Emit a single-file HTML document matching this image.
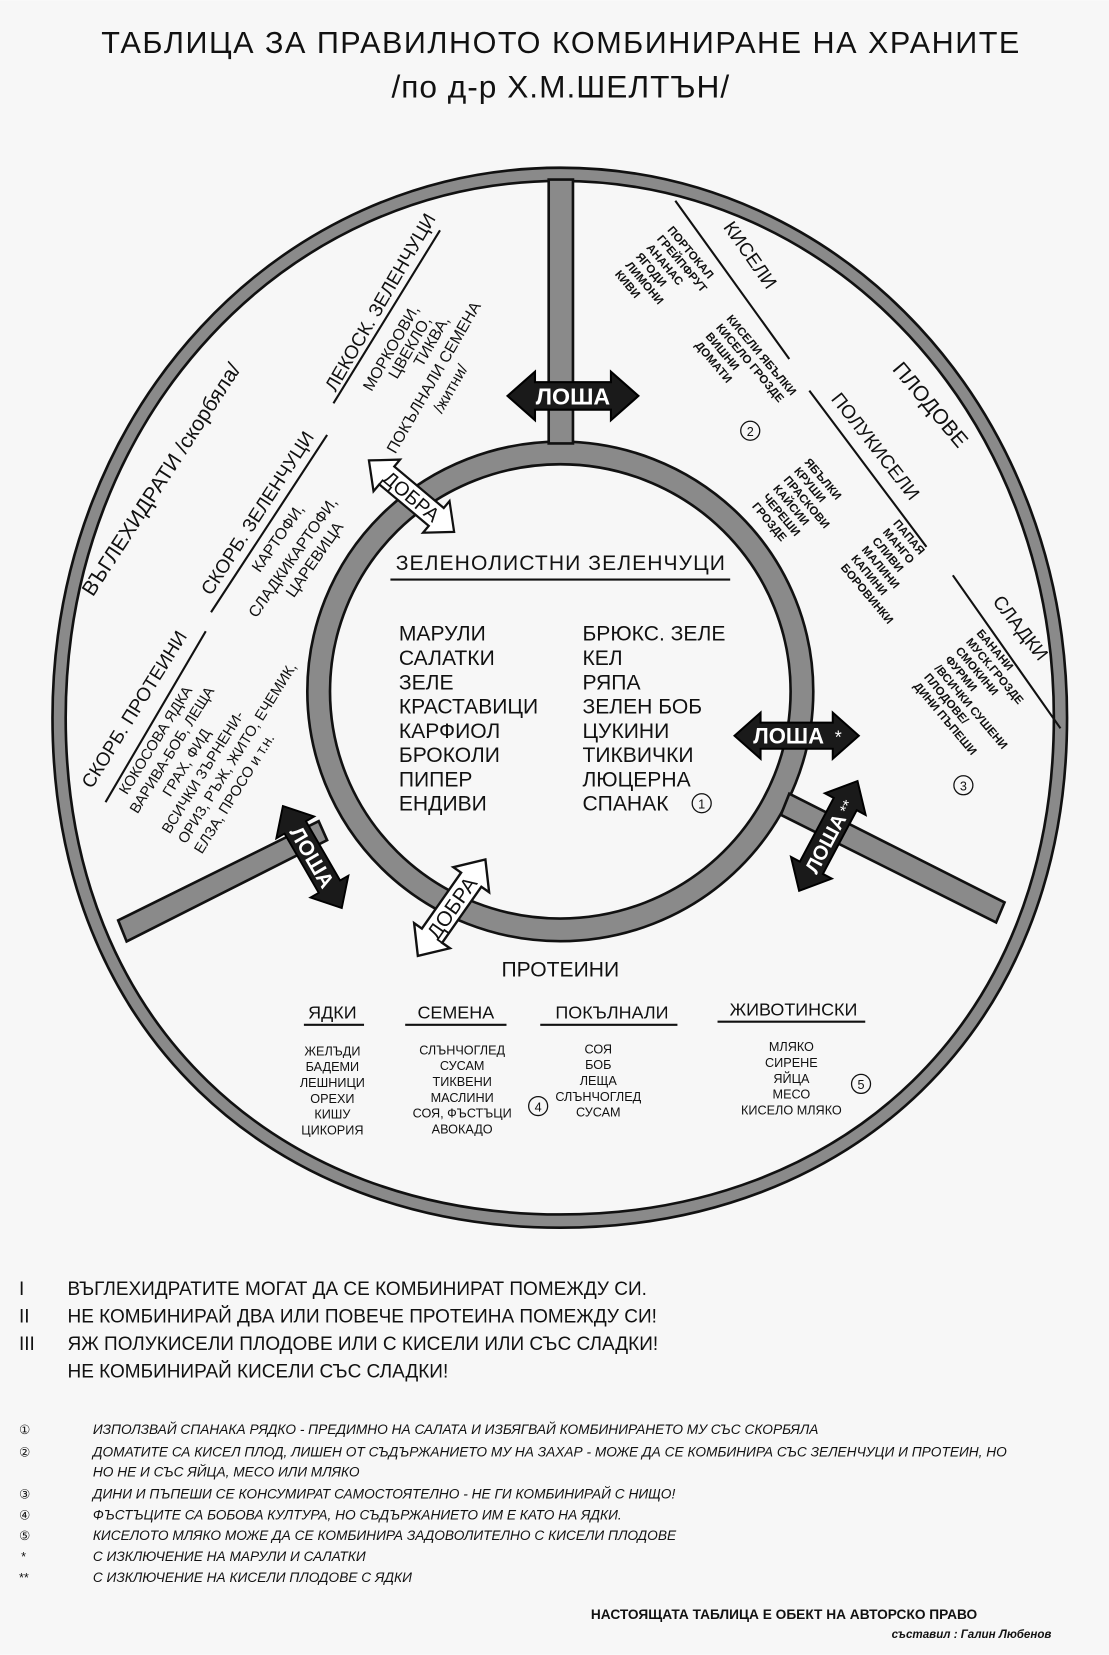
<!DOCTYPE html>
<html><head><meta charset="utf-8">
<style>
html,body{margin:0;padding:0;background:#fff;}
svg{display:block;}
text{font-family:"Liberation Sans","DejaVu Sans",sans-serif;fill:#111;}
</style></head><body>
<svg width="1109" height="1655" viewBox="0 0 1051 1568" xmlns="http://www.w3.org/2000/svg">
<rect width="1051" height="1568" fill="#f7f7f7"/>
<!-- title -->
<text x="531" y="50" font-size="29" text-anchor="middle" textLength="870">ТАБЛИЦА ЗА ПРАВИЛНОТО КОМБИНИРАНЕ НА ХРАНИТЕ</text>
<text x="531" y="92" font-size="30" text-anchor="middle" textLength="320">/по д-р Х.М.ШЕЛТЪН/</text>

<!-- outer ring -->
<path id="outer" d="M531,165 C793,165 1005,390 1005,680 C1005,975 800,1157 531,1157 C262,1157 56,975 56,680 C56,390 269,165 531,165Z" fill="none" stroke="#111" stroke-width="15"/>
<path d="M531,165 C793,165 1005,390 1005,680 C1005,975 800,1157 531,1157 C262,1157 56,975 56,680 C56,390 269,165 531,165Z" fill="none" stroke="#8a8a8a" stroke-width="10"/>
<!-- inner ring -->
<ellipse cx="531" cy="655" rx="229" ry="226" fill="none" stroke="#111" stroke-width="24"/>
<ellipse cx="531" cy="655" rx="229" ry="226" fill="none" stroke="#8a8a8a" stroke-width="19"/>
<!-- spokes -->
<polygon points="520,170 543,170 543,420 520,420" fill="#8a8a8a" stroke="#111" stroke-width="2.5"/>
<polygon points="112,872 302,778 310,796 120,892" fill="#8a8a8a" stroke="#111" stroke-width="2.5"/>
<polygon points="748,752 952,855 944,874 740,772" fill="#8a8a8a" stroke="#111" stroke-width="2.5"/>

<!-- left lines -->
<line x1="200" y1="580" x2="310" y2="412" stroke="#111" stroke-width="2"/>
<line x1="316" y1="382" x2="417" y2="218" stroke="#111" stroke-width="2"/>
<line x1="100" y1="760" x2="195" y2="598" stroke="#111" stroke-width="2"/>
<!-- right lines -->
<line x1="640" y1="190" x2="748" y2="340" stroke="#111" stroke-width="2"/>
<line x1="767" y1="370" x2="878" y2="518" stroke="#111" stroke-width="2"/>
<line x1="903" y1="545" x2="1005" y2="690" stroke="#111" stroke-width="2"/>

<!-- left rotated texts -->
<text font-size="20" transform="translate(88,566) rotate(-57)">ВЪГЛЕХИДРАТИ /скорбяла/</text>
<text font-size="18" transform="translate(200,565) rotate(-57)">СКОРБ. ЗЕЛЕНЧУЦИ</text>
<text font-size="18" transform="translate(318,372) rotate(-60)">ЛЕКОСК. ЗЕЛЕНЧУЦИ</text>
<g font-size="15" transform="translate(243,586) rotate(-55)">
<text x="37" y="-22">КАРТОФИ,</text><text x="0" y="0">СЛАДКИКАРТОФИ,</text><text x="36" y="18">ЦАРЕВИЦА</text></g>
<g font-size="15" transform="translate(379,433) rotate(-60)">
<text x="40" y="-54">МОРКООВИ,</text><text x="62" y="-39">ЦВЕКЛО,</text><text x="84" y="-24">ТИКВА,</text><text x="0" y="-5">ПОКЪЛНАЛИ СЕМЕНА</text><text x="55" y="14">/житни/</text></g>
<text font-size="18" transform="translate(87,748) rotate(-58)">СКОРБ. ПРОТЕИНИ</text>
<g font-size="14" transform="translate(115,762) rotate(-58)">
<text x="10" y="0">КОКОСОВА ЯДКА</text><text x="0" y="18">ВАРИВА-БОБ, ЛЕЩА</text><text x="30" y="36">ГРАХ, ФИД</text><text x="0" y="54">ВСИЧКИ ЗЪРНЕНИ-</text><text x="0" y="72">ОРИЗ, РЪЖ, ЖИТО, ЕЧЕМИК,</text><text x="0" y="90">ЕЛЗА, ПРОСО и т.н.</text></g>

<!-- right rotated texts -->
<text font-size="18" transform="translate(685,215) rotate(55)">КИСЕЛИ</text>
<text font-size="20" transform="translate(845,350) rotate(50)">ПЛОДОВЕ</text>
<text font-size="18" transform="translate(787,378) rotate(52)">ПОЛУКИСЕЛИ</text>
<text font-size="18" transform="translate(940,570) rotate(52)">СЛАДКИ</text>
<g font-size="11" font-weight="bold" transform="translate(632,218) rotate(50)">
<text x="0" y="0">ПОРТОКАЛ</text><text x="0" y="13">ГРЕЙПФРУТ</text><text x="0" y="26">АНАНАС</text><text x="0" y="39">ЯГОДИ</text><text x="0" y="52">ЛИМОНИ</text><text x="0" y="65">КИВИ</text></g>
<g font-size="11" font-weight="bold" transform="translate(688,302) rotate(50)">
<text x="0" y="0">КИСЕЛИ ЯБЪЛКИ</text><text x="0" y="13">КИСЕЛО ГРОЗДЕ</text><text x="0" y="26">ВИШНИ</text><text x="0" y="39">ДОМАТИ</text></g>
<g font-size="11" font-weight="bold" transform="translate(762,438) rotate(50)">
<text x="0" y="0">ЯБЪЛКИ</text><text x="0" y="13">КРУШИ</text><text x="0" y="26">ПРАСКОВИ</text><text x="0" y="39">КАЙСИИ</text><text x="0" y="52">ЧЕРЕШИ</text><text x="0" y="65">ГРОЗДЕ</text></g>
<g font-size="11" font-weight="bold" transform="translate(846,496) rotate(50)">
<text x="0" y="0">ПАПАЯ</text><text x="0" y="13">МАНГО</text><text x="0" y="26">СЛИВИ</text><text x="0" y="39">МАЛИНИ</text><text x="0" y="52">КАПИНИ</text><text x="0" y="65">БОРОВИНКИ</text></g>
<g font-size="11" font-weight="bold" transform="translate(925,600) rotate(50)">
<text x="0" y="0">БАНАНИ</text><text x="0" y="13">МУСК.ГРОЗДЕ</text><text x="0" y="26">СМОКИНИ</text><text x="0" y="39">ФУРМИ</text><text x="0" y="52">/ВСИЧКИ СУШЕНИ</text><text x="0" y="65">ПЛОДОВЕ/</text><text x="0" y="78">ДИНИ ПЪПЕШИ</text></g>
<circle cx="711" cy="408" r="9" fill="none" stroke="#111" stroke-width="1.2"/>
<text x="711" y="413" font-size="12" text-anchor="middle">2</text>
<circle cx="913" cy="744" r="9" fill="none" stroke="#111" stroke-width="1.2"/>
<text x="913" y="749" font-size="12" text-anchor="middle">3</text>

<!-- arrows -->
<defs>
<path id="arr" d="M-62,0 L-36,-23 L-36,-13 L36,-13 L36,-23 L62,0 L36,23 L36,13 L-36,13 L-36,23 Z"/>
</defs>
<g transform="translate(543,375)"><use href="#arr" fill="#1a1a1a" stroke="#000" stroke-width="2"/><text x="0" y="8" font-size="22" font-weight="bold" text-anchor="middle" style="fill:#fff">ЛОША</text></g>
<g transform="translate(390,470) rotate(40) scale(0.85)"><use href="#arr" fill="#fff" stroke="#111" stroke-width="2.5"/><text x="0" y="8" font-size="22" text-anchor="middle">ДОБРА</text></g>
<g transform="translate(755,697) scale(0.95)"><use href="#arr" fill="#1a1a1a" stroke="#000" stroke-width="2"/><text x="-8" y="8" font-size="22" font-weight="bold" text-anchor="middle" style="fill:#fff">ЛОША</text><text x="38" y="8" font-size="18" style="fill:#fff">*</text></g>
<g transform="translate(785,792) rotate(-62) scale(0.95)"><use href="#arr" fill="#1a1a1a" stroke="#000" stroke-width="2"/><text x="-8" y="8" font-size="20" font-weight="bold" text-anchor="middle" style="fill:#fff">ЛОША</text><text x="28" y="8" font-size="16" style="fill:#fff">**</text></g>
<g transform="translate(296,812) rotate(60) scale(0.9)"><use href="#arr" fill="#1a1a1a" stroke="#000" stroke-width="2"/><text x="0" y="8" font-size="22" font-weight="bold" text-anchor="middle" style="fill:#fff">ЛОША</text></g>
<g transform="translate(428,860) rotate(-55) scale(0.9)"><use href="#arr" fill="#fff" stroke="#111" stroke-width="2.5"/><text x="0" y="8" font-size="22" text-anchor="middle">ДОБРА</text></g>

<!-- center -->
<text x="375" y="540" font-size="20" textLength="312">ЗЕЛЕНОЛИСТНИ ЗЕЛЕНЧУЦИ</text>
<line x1="370" y1="549" x2="692" y2="549" stroke="#111" stroke-width="2"/>
<g font-size="20">
<text x="378" y="607">МАРУЛИ</text><text x="378" y="630">САЛАТКИ</text><text x="378" y="653">ЗЕЛЕ</text><text x="378" y="676">КРАСТАВИЦИ</text><text x="378" y="699">КАРФИОЛ</text><text x="378" y="722">БРОКОЛИ</text><text x="378" y="745">ПИПЕР</text><text x="378" y="768">ЕНДИВИ</text>
<text x="552" y="607">БРЮКС. ЗЕЛЕ</text><text x="552" y="630">КЕЛ</text><text x="552" y="653">РЯПА</text><text x="552" y="676">ЗЕЛЕН БОБ</text><text x="552" y="699">ЦУКИНИ</text><text x="552" y="722">ТИКВИЧКИ</text><text x="552" y="745">ЛЮЦЕРНА</text><text x="552" y="768">СПАНАК</text>
</g>
<circle cx="665" cy="761" r="9" fill="none" stroke="#111" stroke-width="1.2"/>
<text x="665" y="766" font-size="12" text-anchor="middle">1</text>

<!-- proteins -->
<text x="531" y="925" font-size="20" text-anchor="middle">ПРОТЕИНИ</text>
<g font-size="17" text-anchor="middle">
<text x="315" y="965">ЯДКИ</text><text x="432" y="965">СЕМЕНА</text><text x="580" y="965">ПОКЪЛНАЛИ</text><text x="752" y="962">ЖИВОТИНСКИ</text></g>
<g stroke="#111" stroke-width="2">
<line x1="288" y1="971" x2="345" y2="971"/><line x1="384" y1="971" x2="480" y2="971"/><line x1="512" y1="971" x2="642" y2="971"/><line x1="680" y1="968" x2="820" y2="968"/></g>
<g font-size="12" text-anchor="middle">
<text x="315" y="1000">ЖЕЛЪДИ</text><text x="315" y="1015">БАДЕМИ</text><text x="315" y="1030">ЛЕШНИЦИ</text><text x="315" y="1045">ОРЕХИ</text><text x="315" y="1060">КИШУ</text><text x="315" y="1075">ЦИКОРИЯ</text>
<text x="438" y="999">СЛЪНЧОГЛЕД</text><text x="438" y="1014">СУСАМ</text><text x="438" y="1029">ТИКВЕНИ</text><text x="438" y="1044">МАСЛИНИ</text><text x="438" y="1059">СОЯ, ФЪСТЪЦИ</text><text x="438" y="1074">АВОКАДО</text>
<text x="567" y="998">СОЯ</text><text x="567" y="1013">БОБ</text><text x="567" y="1028">ЛЕЩА</text><text x="567" y="1043">СЛЪНЧОГЛЕД</text><text x="567" y="1058">СУСАМ</text>
<text x="750" y="996">МЛЯКО</text><text x="750" y="1011">СИРЕНЕ</text><text x="750" y="1026">ЯЙЦА</text><text x="750" y="1041">МЕСО</text><text x="750" y="1056">КИСЕЛО МЛЯКО</text></g>
<circle cx="510" cy="1048" r="9" fill="none" stroke="#111" stroke-width="1.2"/>
<text x="510" y="1053" font-size="12" text-anchor="middle">4</text>
<circle cx="816" cy="1027" r="9" fill="none" stroke="#111" stroke-width="1.2"/>
<text x="816" y="1032" font-size="12" text-anchor="middle">5</text>

<!-- rules -->
<g font-size="18">
<text x="18" y="1227" font-family="Liberation Serif">I</text><text x="64" y="1227">ВЪГЛЕХИДРАТИТЕ МОГАТ ДА СЕ КОМБИНИРАТ ПОМЕЖДУ СИ.</text>
<text x="18" y="1253" font-family="Liberation Serif">II</text><text x="64" y="1253">НЕ КОМБИНИРАЙ ДВА ИЛИ ПОВЕЧЕ ПРОТЕИНА ПОМЕЖДУ СИ!</text>
<text x="18" y="1279" font-family="Liberation Serif">III</text><text x="64" y="1279">ЯЖ ПОЛУКИСЕЛИ ПЛОДОВЕ ИЛИ С КИСЕЛИ ИЛИ СЪС СЛАДКИ!</text>
<text x="64" y="1305">НЕ КОМБИНИРАЙ КИСЕЛИ СЪС СЛАДКИ!</text></g>
<g font-size="13" font-style="italic">
<text x="88" y="1359">ИЗПОЛЗВАЙ СПАНАКА РЯДКО - ПРЕДИМНО НА САЛАТА И ИЗБЯГВАЙ КОМБИНИРАНЕТО МУ СЪС СКОРБЯЛА</text>
<text x="88" y="1380">ДОМАТИТЕ СА КИСЕЛ ПЛОД, ЛИШЕН ОТ СЪДЪРЖАНИЕТО МУ НА ЗАХАР - МОЖЕ ДА СЕ КОМБИНИРА СЪС ЗЕЛЕНЧУЦИ И ПРОТЕИН, НО</text>
<text x="88" y="1399">НО НЕ И СЪС ЯЙЦА, МЕСО ИЛИ МЛЯКО</text>
<text x="88" y="1420">ДИНИ И ПЪПЕШИ СЕ КОНСУМИРАТ САМОСТОЯТЕЛНО - НЕ ГИ КОМБИНИРАЙ С НИЩО!</text>
<text x="88" y="1440">ФЪСТЪЦИТЕ СА БОБОВА КУЛТУРА, НО СЪДЪРЖАНИЕТО ИМ Е КАТО НА ЯДКИ.</text>
<text x="88" y="1459">КИСЕЛОТО МЛЯКО МОЖЕ ДА СЕ КОМБИНИРА ЗАДОВОЛИТЕЛНО С КИСЕЛИ ПЛОДОВЕ</text>
<text x="88" y="1479">С ИЗКЛЮЧЕНИЕ НА МАРУЛИ И САЛАТКИ</text>
<text x="88" y="1499">С ИЗКЛЮЧЕНИЕ НА КИСЕЛИ ПЛОДОВЕ С ЯДКИ</text></g>
<g font-size="12" font-family="Liberation Serif">
<text x="18" y="1359">①</text><text x="18" y="1380">②</text><text x="18" y="1420">③</text><text x="18" y="1440">④</text><text x="18" y="1459">⑤</text><text x="20" y="1479">*</text><text x="18" y="1499">**</text></g>
<text x="560" y="1534" font-size="13" font-weight="bold">НАСТОЯЩАТА ТАБЛИЦА Е ОБЕКТ НА АВТОРСКО ПРАВО</text>
<text x="845" y="1552" font-size="11" font-style="italic" font-weight="bold">съставил : Галин Любенов</text>
</svg>
</body></html>
